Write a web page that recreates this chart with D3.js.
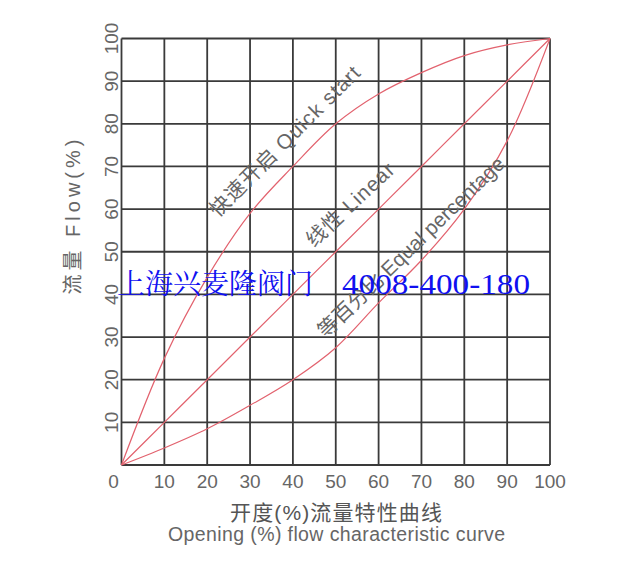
<!DOCTYPE html>
<html><head><meta charset="utf-8">
<script src="https://cdn.jsdelivr.net/npm/d3@7"></script>
<style>body{margin:0;background:#fff}svg{display:block}</style>
</head><body>
<script>
const xTicks = [0,10,20,30,40,50,60,70,80,90,100];
const yTicks = [10,20,30,40,50,60,70,80,90,100];
const opening = [0,10,20,30,40,50,60,70,80,90,100];
const quickStart = [0,25,44,59,70,80,87,92,96,98.5,100];
const linear = [0,10,20,30,40,50,60,70,80,90,100];
const equalPct = [0,4,8.5,14,20,27.5,38,48,60,76,100];

const W=633,H=575;
const svg=d3.select("body").append("svg").attr("width",W).attr("height",H);
const x=d3.scaleLinear().domain([0,100]).range([121.5,550]);
const y=d3.scaleLinear().domain([0,100]).range([465,38.5]);

const grid=svg.append("g").attr("stroke","#3a3a3a").attr("stroke-width",1.8);
xTicks.forEach(t=>grid.append("line").attr("x1",x(t)).attr("x2",x(t)).attr("y1",y(0)).attr("y2",y(100)));
[0].concat(yTicks).forEach(t=>grid.append("line").attr("x1",x(0)).attr("x2",x(100)).attr("y1",y(t)).attr("y2",y(t)));

const font="'Liberation Sans', Arial, 'Noto Sans CJK SC', sans-serif";
const cjk="'Liberation Sans', 'Noto Sans CJK SC', sans-serif";
svg.append("g").selectAll("text").data(xTicks).join("text")
  .attr("x",d=>d===0?x(d)-8:x(d)).attr("y",488).attr("text-anchor","middle")
  .attr("font-family",font).attr("font-size",19).attr("fill","#666").text(d=>d);
svg.append("g").selectAll("text").data(yTicks).join("text")
  .attr("transform",d=>`translate(118,${y(d)}) rotate(-90)`).attr("text-anchor","middle")
  .attr("font-family",font).attr("font-size",19).attr("fill","#666").text(d=>d);

const line=d3.line().x((d,i)=>x(opening[i])).y(d=>y(d)).curve(d3.curveCatmullRom.alpha(0.5));
[quickStart,linear,equalPct].forEach(s=>svg.append("path").attr("d",line(s))
  .attr("fill","none").attr("stroke","#e2626e").attr("stroke-width",1.2));

svg.append("text").attr("transform","translate(80,217) rotate(-90)").attr("text-anchor","middle")
  .attr("font-family",cjk).attr("font-size",20).attr("fill","#666")
  .attr("textLength",155).attr("lengthAdjust","spacing").text("流量 Flow(%)");

const lab=(tx,ty,ang,len,t)=>svg.append("text").attr("transform",`translate(${tx},${ty}) rotate(${ang})`)
  .attr("font-family",cjk).attr("font-size",20.5).attr("fill","#666")
  .attr("textLength",len).attr("lengthAdjust","spacing").text(t);
lab(218,218,-45,203,"快速开启 Quick start");
lab(314,248,-43,112,"线性 Linear");
lab(326,339,-44,250,"等百分比 Equal percentage");

svg.append("text").attr("x",336).attr("y",520).attr("text-anchor","middle")
  .attr("font-family",cjk).attr("font-size",21).attr("fill","#555")
  .attr("textLength",212).attr("lengthAdjust","spacing").text("开度(%)流量特性曲线");
svg.append("text").attr("x",336.5).attr("y",541).attr("text-anchor","middle")
  .attr("font-family",font).attr("font-size",19.5).attr("fill","#666")
  .attr("textLength",337).attr("lengthAdjust","spacing").text("Opening (%) flow characteristic curve");

svg.append("text").attr("x",117).attr("y",294)
  .attr("font-family","'Noto Serif CJK SC','Noto Sans CJK SC',serif").attr("font-size",28).attr("fill","#1010f0")
  .attr("textLength",196).attr("lengthAdjust","spacingAndGlyphs").text("上海兴麦隆阀门");
svg.append("text").attr("x",342).attr("y",294)
  .attr("font-family","'Liberation Serif','DejaVu Serif',serif").attr("font-size",30).attr("fill","#1010f0")
  .attr("textLength",188).attr("lengthAdjust","spacingAndGlyphs").text("4008-400-180");
</script>
</body></html>
